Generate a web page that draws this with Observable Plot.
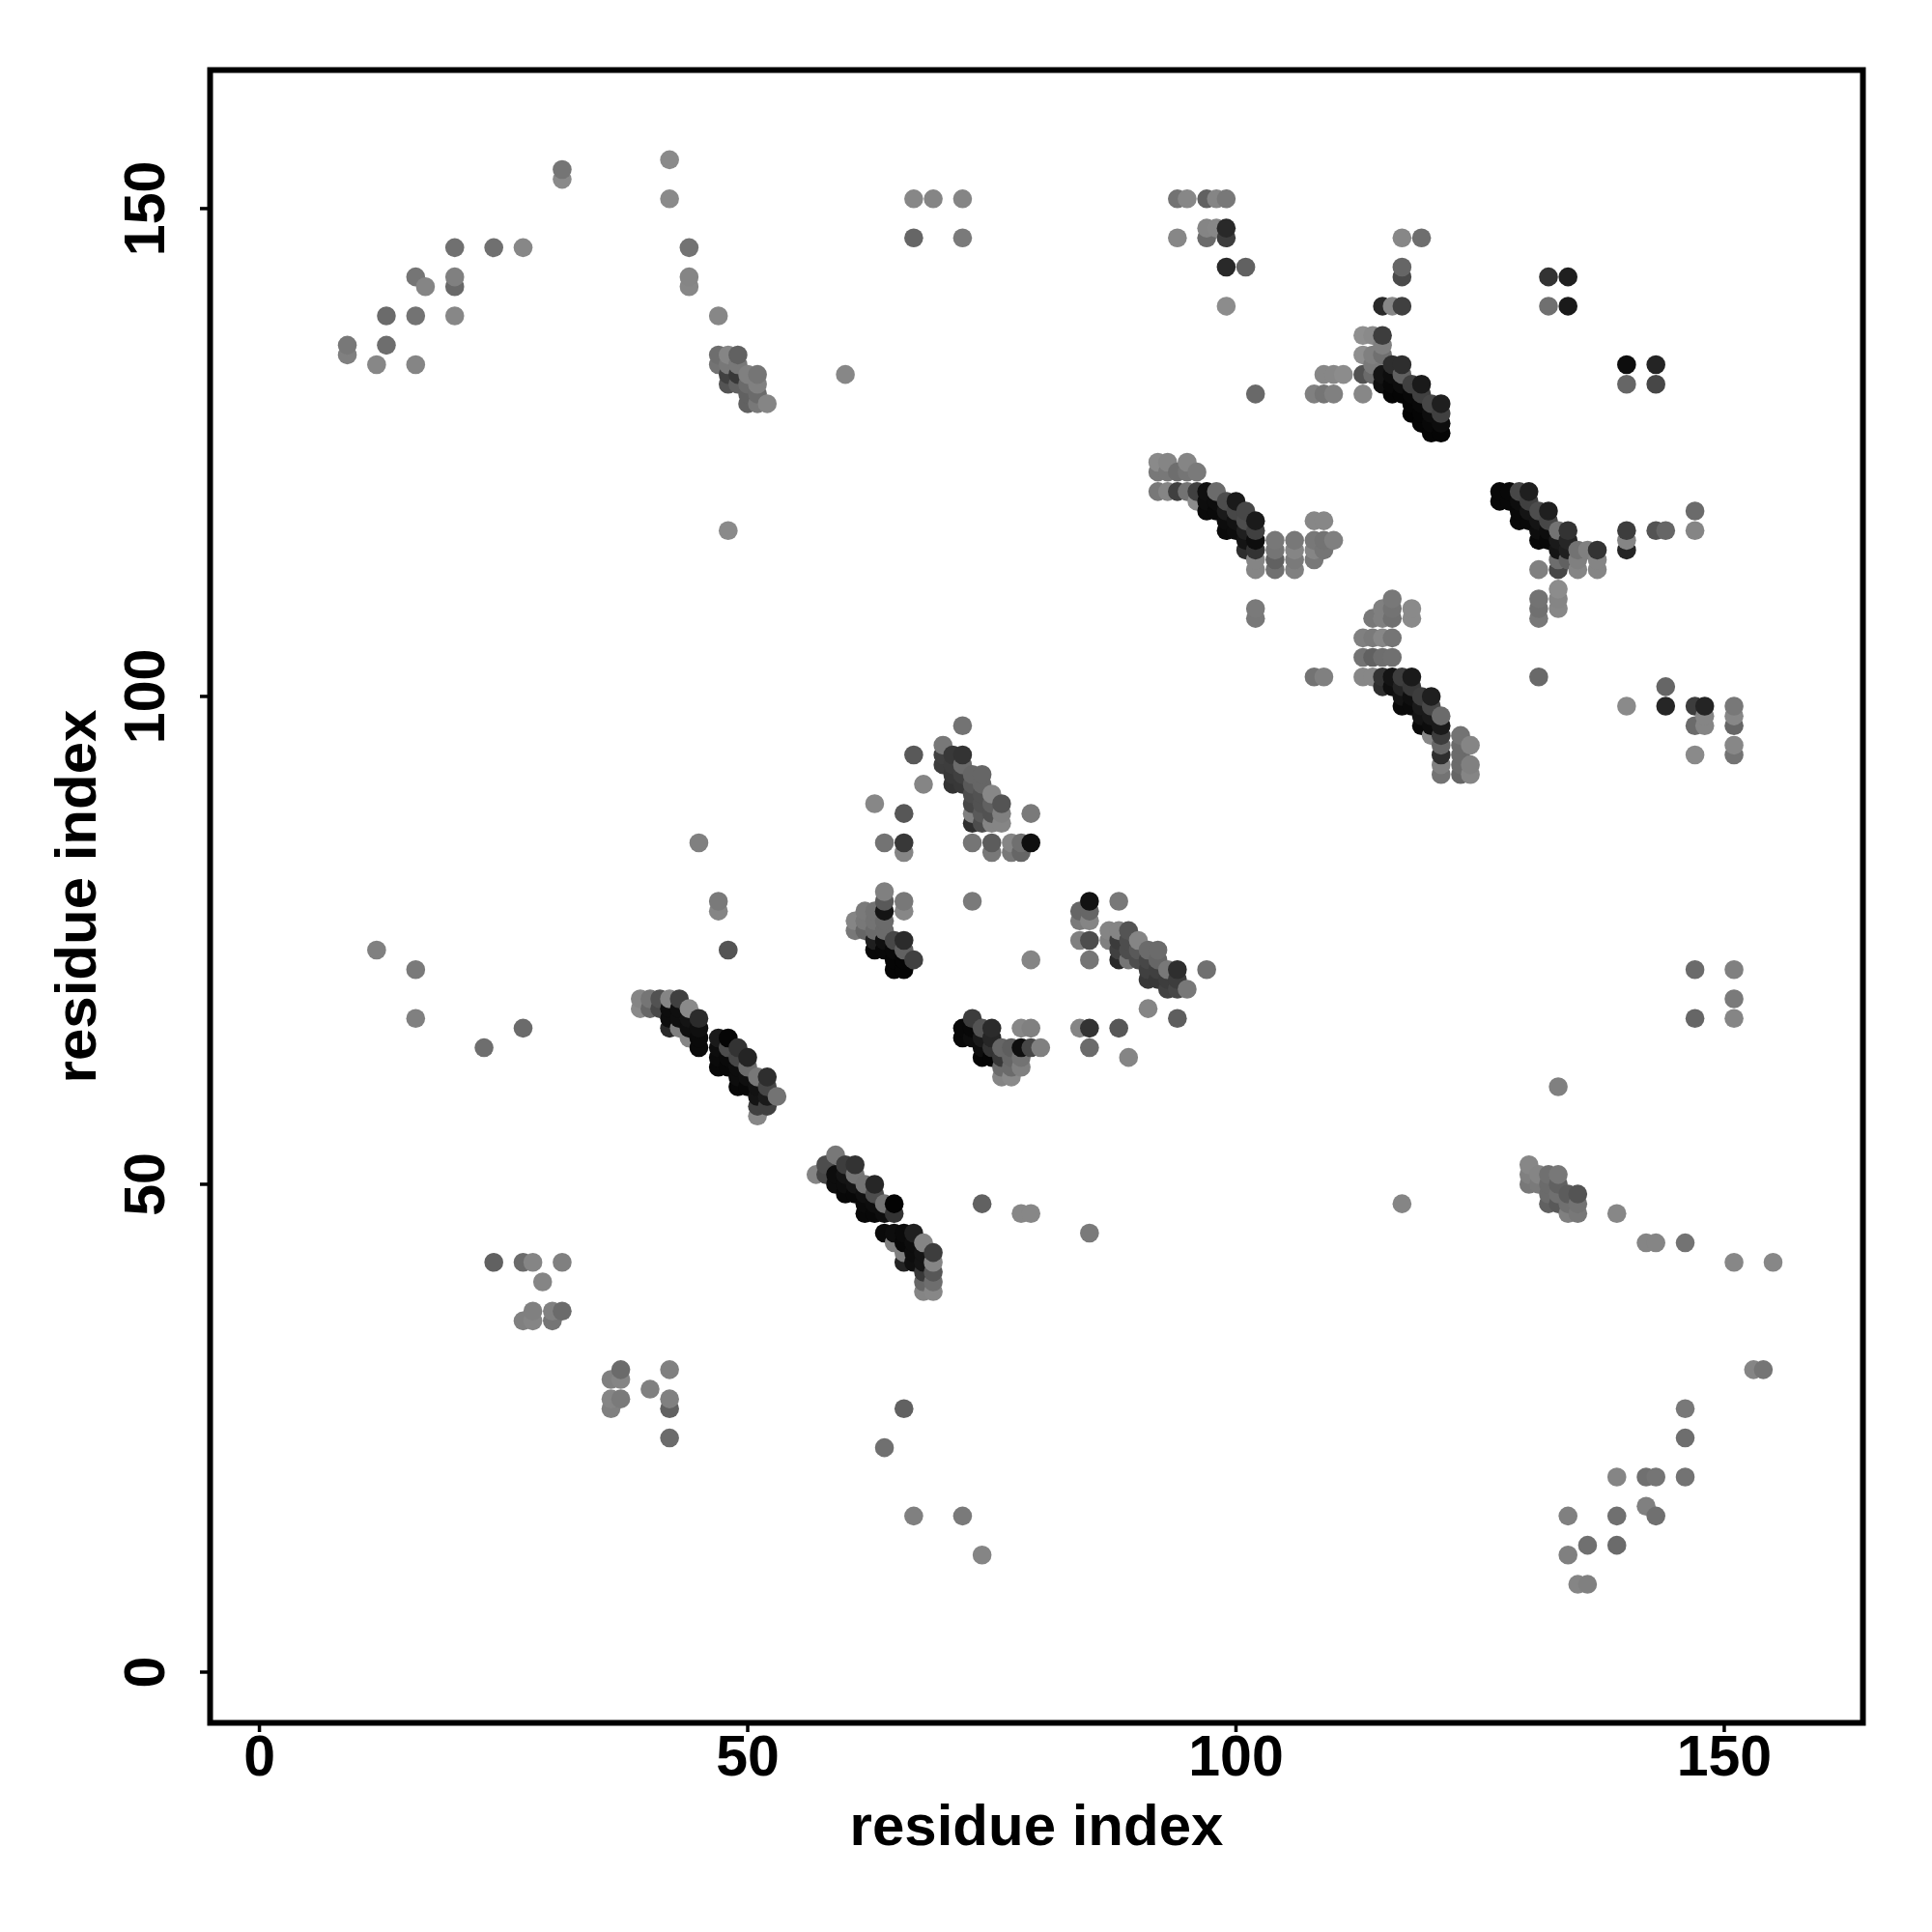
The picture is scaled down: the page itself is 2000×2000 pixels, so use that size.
<!DOCTYPE html>
<html>
<head>
<meta charset="utf-8">
<script src="https://cdn.jsdelivr.net/npm/d3@7"></script>
<script src="https://cdn.jsdelivr.net/npm/@observablehq/plot@0.6"></script>
<style>html,body{margin:0;padding:0;background:#fff}svg{display:block}</style>
</head>
<body>
<div id="chart"></div>
<script>
// each contact: [residue i, residue j, gray level in percent of white]
const farLeft = [[9,136,47],[9,135,50],[12,134,53],[13,139,42],[13,136,43],[16,143,46],[16,139,45],[16,134,52],[17,142,52],[20,146,44],[20,143,50],[20,142,41],[20,139,53],[24,146,44],[27,146,53],[31,154,46],[31,153,54],[42,155,54],[42,151,54],[44,146,45],[44,143,52],[44,142,53],[47,139,53],[48,117,54],[60,133,53]];
const cluster47 = [[47,135,43],[47,134,45],[48,135,52],[48,134,47],[48,133,25],[48,132,33],[49,135,38],[49,134,47],[49,133,22],[49,132,38],[50,133,50],[50,132,42],[50,131,38],[50,130,38],[51,133,46],[51,132,50],[51,131,42],[51,130,47],[52,130,52]];
const upperMid = [[67,151,53],[69,151,52],[72,151,52],[67,147,40],[72,147,48]];
const cluster94 = [[94,151,45],[95,151,53],[97,151,38],[98,151,52],[99,151,47],[97,148,52],[98,148,53],[99,148,16],[94,147,53],[97,147,42],[99,147,24],[99,144,16],[101,144,38],[99,140,55],[102,131,41]];
const cluster113 = [[108,131,50],[109,131,46],[110,131,50],[109,133,53],[110,133,53],[111,133,55],[113,137,56],[114,137,54],[115,137,24],[115,136,50],[113,135,56],[114,135,50],[115,135,44],[114,134,48],[113,133,32],[114,133,42],[115,133,8],[113,131,53],[115,140,16],[116,140,53],[117,140,25],[117,147,53],[119,147,43],[117,144,40],[117,143,29],[116,134,18],[117,134,18],[116,133,5],[117,133,38],[115,132,6],[116,132,3],[117,132,5],[118,132,25],[119,132,10],[116,131,2],[117,131,2],[118,131,3],[119,131,25],[118,130,2],[119,130,3],[120,130,28],[121,130,12],[118,129,1],[119,129,2],[120,129,5],[121,129,25],[119,128,2],[120,128,3],[121,128,5],[120,127,2],[121,127,2]];
const cluster92 = [[92,124,54],[93,124,52],[95,124,52],[92,123,47],[93,123,47],[94,123,43],[95,123,46],[96,123,48],[92,121,47],[93,121,52],[94,121,25],[95,121,45],[96,121,25],[97,121,6],[98,121,42],[96,120,55],[97,120,5],[98,120,5],[99,120,30],[100,120,10],[97,119,4],[98,119,4],[99,119,10],[100,119,28],[101,119,28],[99,118,5],[100,118,7],[101,118,30],[102,118,10],[99,117,4],[100,117,5],[101,117,12],[102,117,25],[101,116,8],[102,116,5],[104,116,47],[106,116,47],[108,116,47],[109,116,45],[110,116,50],[101,115,18],[102,115,20],[104,115,46],[106,115,52],[108,115,52],[109,115,46],[102,114,52],[104,114,38],[106,114,48],[108,114,47],[102,113,52],[104,113,44],[106,113,50],[108,118,53],[109,118,53],[102,109,48],[102,108,47]];
const cluster127 = [[127,121,3],[128,121,3],[129,121,28],[130,121,12],[127,120,3],[128,120,3],[129,120,5],[130,120,25],[129,119,3],[130,119,8],[131,119,30],[132,119,12],[129,118,3],[130,118,3],[131,118,8],[132,118,28],[131,117,5],[132,117,5],[133,117,45],[134,117,20],[131,116,3],[132,116,3],[133,116,10],[134,116,15],[133,115,8],[134,115,12],[135,115,45],[136,115,50],[137,115,20],[133,114,43],[134,114,38],[135,114,50],[137,114,52],[131,113,50],[133,113,28],[135,113,52],[137,113,52],[133,111,55],[131,110,45],[133,110,52],[131,109,44],[133,109,53],[131,108,47],[140,117,24],[140,116,52],[140,115,14],[143,117,33],[144,117,40],[147,119,42],[147,117,52]];
const cluster113low = [[116,110,47],[115,109,50],[116,109,45],[118,109,54],[114,108,47],[115,108,50],[116,108,44],[118,108,54],[113,106,50],[114,106,48],[115,106,53],[116,106,46],[113,104,45],[114,104,38],[115,104,43],[116,104,44],[108,102,45],[109,102,50],[113,102,53],[114,102,53],[115,102,20],[116,102,8],[117,102,24],[118,102,10],[115,101,18],[116,101,6],[117,101,14],[118,101,22],[117,100,8],[118,100,6],[119,100,24],[120,100,12],[117,99,4],[118,99,4],[119,99,10],[120,99,28],[119,98,8],[120,98,10],[121,98,42],[119,97,4],[120,97,5],[121,97,10],[120,96,53],[121,96,24],[123,96,45],[121,95,40],[123,95,42],[124,95,52],[121,94,18],[123,94,42],[121,93,50],[123,93,42],[124,93,50],[121,92,45],[123,92,40],[124,92,52]];
const cluster70 = [[72,97,45],[70,95,47],[67,94,35],[70,94,25],[70,93,24],[71,94,22],[72,94,20],[71,93,24],[72,93,42],[71,92,22],[72,92,25],[73,92,40],[74,92,40],[71,91,20],[72,91,22],[73,91,35],[74,91,40],[73,90,30],[74,90,32],[75,90,53],[73,89,28],[74,89,32],[75,89,38],[76,89,33],[73,88,50],[74,88,35],[75,88,32],[76,88,50],[73,87,18],[74,87,30],[75,87,52],[76,87,52],[68,91,52],[63,89,53],[66,88,34],[79,88,48],[64,85,45],[66,85,22],[73,85,46],[75,85,36],[77,85,52],[78,85,44],[79,85,6],[66,84,52],[75,84,47],[77,84,47],[78,84,40]];
const cluster61 = [[64,80,50],[64,79,35],[64,78,8],[66,79,47],[66,78,53],[73,79,48],[79,73,52],[61,77,52],[61,76,47],[62,78,48],[62,77,47],[62,76,40],[63,78,45],[63,77,45],[63,76,42],[63,75,12],[63,74,3],[64,77,42],[64,76,42],[64,75,6],[64,74,3],[65,75,28],[65,74,3],[65,73,2],[65,72,2],[66,75,17],[66,74,38],[66,73,2],[66,72,2],[67,73,25]];
const cluster72 = [[73,67,24],[72,66,3],[72,65,3],[73,66,3],[73,65,5],[74,66,33],[75,66,17],[74,65,10],[75,65,15],[74,64,5],[75,64,20],[76,64,40],[77,64,37],[78,64,6],[79,64,28],[80,64,50],[74,63,2],[75,63,2],[76,63,22],[77,63,40],[78,63,45],[76,62,42],[77,62,42],[78,62,50],[76,61,52],[77,61,54],[78,66,53],[79,66,50]];
const cluster84 = [[85,79,7],[88,79,47],[84,78,40],[85,78,40],[84,77,48],[85,77,52],[84,75,50],[85,75,30],[85,73,46],[87,76,52],[88,76,52],[89,76,33],[87,75,50],[88,75,23],[89,75,30],[90,75,52],[88,74,25],[89,74,30],[90,74,35],[91,74,42],[92,74,42],[88,73,16],[89,73,46],[90,73,30],[91,73,28],[92,73,40],[91,72,25],[92,72,25],[93,72,47],[94,72,18],[91,71,22],[92,71,22],[93,71,24],[94,71,24],[93,70,26],[94,70,28],[95,70,47],[97,72,44],[91,68,52],[94,67,37],[84,66,52],[85,66,20],[88,66,34],[85,64,42],[89,63,52]];
const helix39 = [[39,69,52],[40,69,46],[41,69,32],[42,69,52],[43,69,25],[39,68,54],[40,68,40],[41,68,28],[42,68,5],[43,68,6],[44,68,54],[42,67,5],[43,67,6],[44,67,8],[45,67,17],[42,66,16],[43,66,50],[44,66,6],[45,66,6],[44,65,52],[45,65,4],[45,64,4],[47,65,10],[48,65,2],[47,64,5],[48,64,30],[49,64,20],[47,63,4],[48,63,4],[49,63,28],[50,63,14],[47,62,3],[48,62,3],[49,62,5],[50,62,42],[49,61,5],[50,61,6],[51,61,47],[52,61,18],[49,60,3],[50,60,3],[51,60,7],[52,60,28],[51,59,8],[52,59,10],[53,59,45],[51,58,25],[52,58,25],[51,57,53]];
const helix57 = [[59,53,47],[58,52,30],[60,52,24],[61,52,20],[57,51,52],[58,51,28],[59,51,5],[60,51,8],[61,51,46],[59,50,5],[60,50,5],[61,50,8],[62,50,45],[63,50,15],[60,49,3],[61,49,3],[62,49,6],[63,49,30],[62,48,4],[63,48,5],[64,48,45],[65,48,1],[62,47,3],[63,47,3],[64,47,5],[65,47,20],[64,45,4],[65,45,5],[66,45,4],[67,45,12],[65,44,50],[66,44,3],[67,44,5],[68,44,52],[66,43,50],[67,43,5],[68,43,8],[69,43,24],[66,42,14],[67,42,6],[68,42,8],[69,42,52],[68,41,22],[69,41,34],[68,40,40],[69,40,43],[68,39,52],[69,39,53]];
const cluster130 = [[130,52,53],[130,51,50],[130,50,47],[131,51,52],[131,50,48],[132,51,44],[132,50,42],[132,49,42],[132,48,38],[133,51,47],[133,50,38],[133,49,44],[133,48,35],[134,49,36],[134,48,44],[134,47,50],[135,49,33],[135,48,45],[135,47,47]];
const scatterMid = [[45,85,50],[47,79,48],[47,78,52],[48,74,33],[12,74,50],[16,72,48],[16,67,50],[23,64,43],[27,66,42],[131,102,41],[144,101,40],[140,99,54],[144,99,15],[147,99,24],[148,99,14],[147,97,42],[148,98,52],[148,97,52],[151,99,47],[151,98,53],[151,97,40],[151,95,53],[151,94,45],[147,94,54],[147,72,42],[147,67,40],[151,72,50],[151,69,48],[151,67,52],[133,60,50],[74,48,38],[78,47,53],[79,47,53],[85,45,48],[117,48,52],[139,47,53],[142,44,52],[143,44,52],[146,44,45],[151,42,53],[155,42,53]];
const scatterTopRight = [[132,143,20],[134,143,12],[132,140,44],[134,140,10],[140,134,5],[143,134,14],[140,132,40],[143,132,28]];
const scatterLowRight = [[153,31,52],[154,31,46],[146,27,47],[146,24,43],[139,20,52],[142,20,44],[143,20,46],[146,20,45],[142,17,50],[134,16,50],[139,16,44],[143,16,44],[134,12,50],[136,13,44],[139,13,42],[135,9,52],[136,9,50]];
const scatterLowLeft = [[24,42,38],[27,42,42],[28,42,52],[31,42,50],[29,40,52],[28,37,50],[30,37,50],[31,37,42],[27,36,50],[28,36,52],[30,36,46],[36,30,50],[37,31,42],[37,30,52],[36,28,52],[37,28,48],[36,27,50],[40,29,50],[42,31,50],[42,28,50],[42,27,38],[42,24,42],[66,27,38],[64,23,44],[67,16,50],[72,16,48],[74,12,52]];

const contacts = [...farLeft, ...cluster47, ...upperMid, ...cluster94, ...cluster113, ...cluster92, ...cluster127, ...cluster113low, ...cluster70, ...cluster61, ...cluster72, ...cluster84, ...helix39, ...helix57, ...cluster130, ...scatterMid, ...scatterTopRight, ...scatterLowRight, ...scatterLowLeft]
  .slice().sort((a, b) => a[0] - b[0] || a[1] - b[1]);

const tickValues = [0, 50, 100, 150];
const axisTitle = "residue index";
const font = "'Liberation Sans', Arial, sans-serif";

const chart = Plot.plot({
  width: 2000, height: 2000,
  marginLeft: 217, marginRight: 72, marginTop: 72, marginBottom: 217,
  style: {background: "#fff", fontFamily: font},
  x: {domain: [-5.05, 164.2]},
  y: {domain: [-5.2, 164.2]},
  color: {type: "linear", domain: [0, 100], range: ["#000000", "#ffffff"], interpolate: "rgb"},
  marks: [
    Plot.dot(contacts, {x: d => d[0], y: d => d[1], fill: d => d[2], r: 9.8, stroke: "none"}),
    Plot.frame({stroke: "#000", strokeWidth: 6}),
    Plot.axisX({ticks: tickValues, tickSize: 10, tickPadding: 3, strokeWidth: 3.5, fontSize: 59, fontWeight: "bold", fill: "#000", color: "#000", label: null, tickFormat: d => String(d)}),
    Plot.axisY({ticks: tickValues, tickSize: 10, tickPadding: 38, strokeWidth: 3.5, fontSize: 59, fontWeight: "bold", fill: "#000", color: "#000", label: null, tickRotate: -90, textAnchor: "middle", tickFormat: d => String(d)}),
    Plot.axisX({ticks: [], tickSize: 0, label: axisTitle, labelAnchor: "center", labelArrow: "none", labelOffset: 126, fontSize: 60, fontWeight: "bold", fill: "#000", color: "#000"}),
    Plot.axisY({ticks: [], tickSize: 0, label: axisTitle, labelAnchor: "center", labelArrow: "none", labelOffset: 161, fontSize: 60, fontWeight: "bold", fill: "#000", color: "#000"})
  ]
});
document.getElementById("chart").appendChild(chart);
</script>
</body>
</html>
